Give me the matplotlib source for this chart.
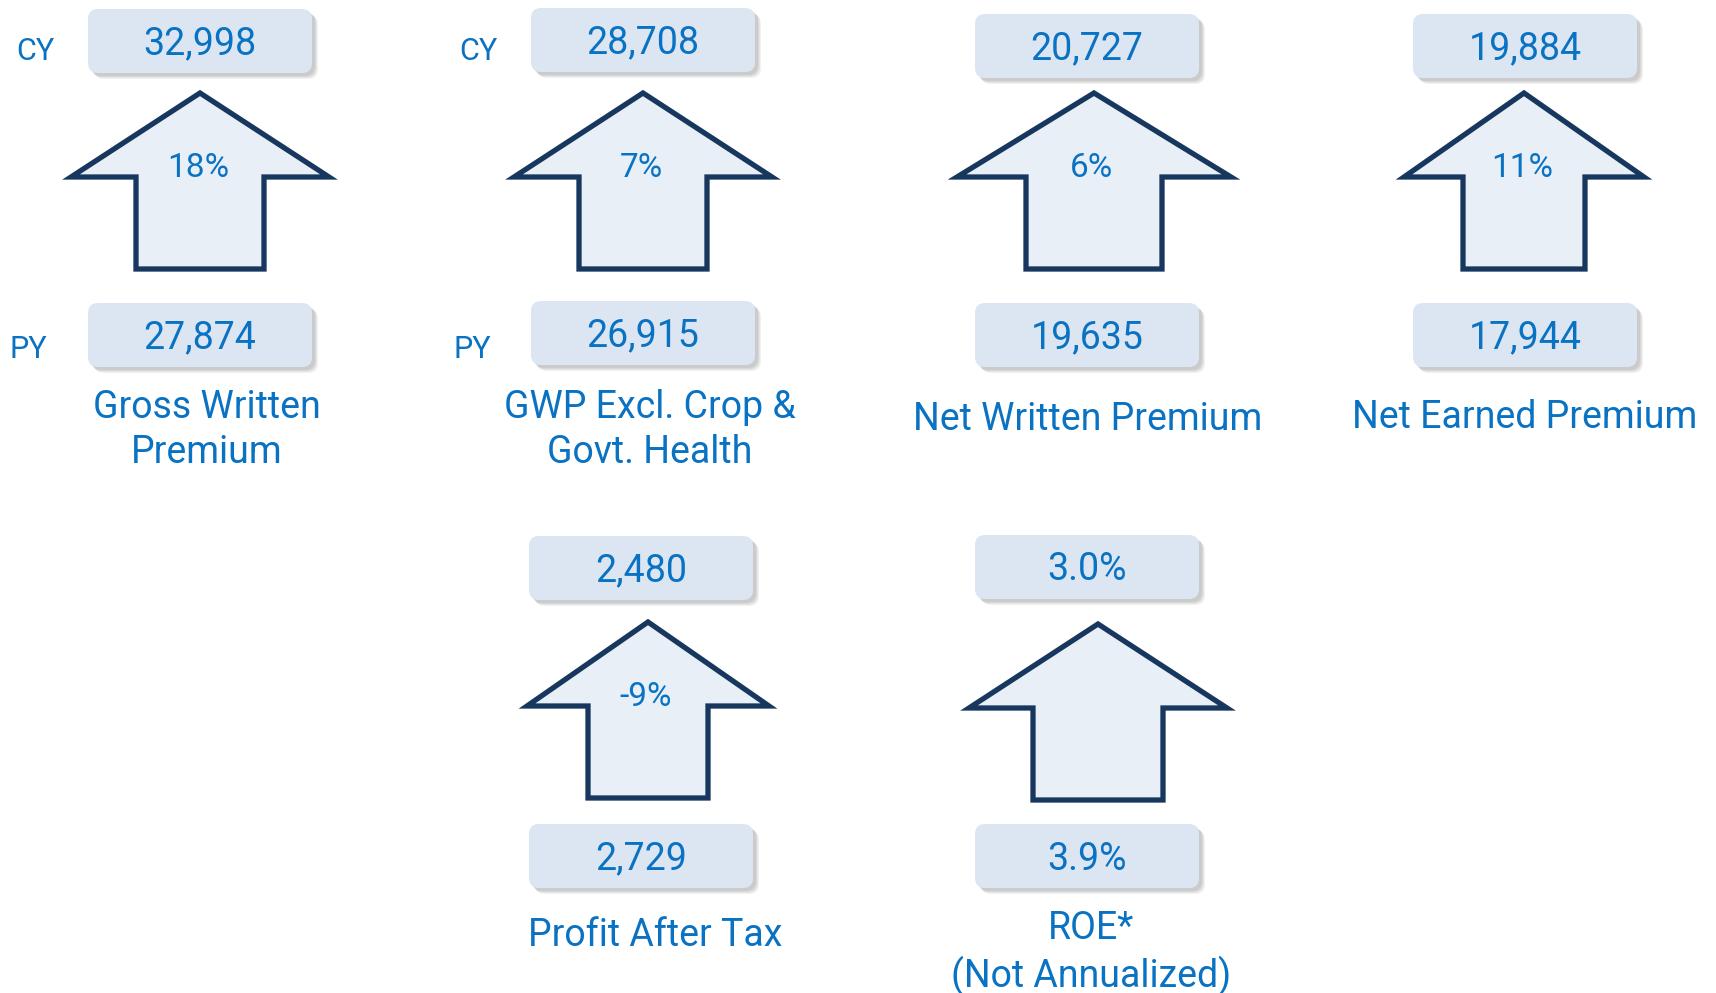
import matplotlib
matplotlib.use("Agg")
import matplotlib.pyplot as plt
from matplotlib.patches import FancyBboxPatch, Polygon

# ---- data ----
metric_labels = ["Gross Written\nPremium", "GWP Excl. Crop &\nGovt. Health", "Net Written Premium",
                 "Net Earned Premium", "Profit After Tax", "ROE*\n(Not Annualized)"]
cy_values = ["32,998", "28,708", "20,727", "19,884", "2,480", "3.0%"]
py_values = ["27,874", "26,915", "19,635", "17,944", "2,729", "3.9%"]
pct_change = ["18%", "7%", "6%", "11%", "-9%", ""]
row_labels = ["CY", "PY"]

# ---- layout (pixel space) ----
W, H = 1716, 993
tile_cx = [200, 643, 1087, 1525, 641, 1087]          # box centre x
box_cy_top = [9, 8, 14, 14, 536, 535]               # top of CY box
box_py_top = [303, 301, 303, 303, 824, 824]         # top of PY box
arrow_tip = [(200, 93), (643, 93), (1094, 93), (1524, 93), (648, 622), (1098, 624)]
head_half = [129, 129, 137, 120, 121, 129]
shaft_half = [64, 64, 68, 61, 60, 65]
label_pos = [(207, 430), (650, 430), (1088, 419), (1525, 418), (655, 935), (1091, 953)]
row_label_tiles = [0, 1]
row_label_x = [(35, 28), (478, 472)]
row_label_y = (51, 349)
BOX_W, BOX_H = 224, 64

TEXT = "#0A72C2"
BOX_FILL = "#DCE6F2"
ARROW_FILL = "#E9EFF7"
ARROW_EDGE = "#17375E"
FONT = ["Roboto", "DejaVu Sans"]
WEIGHT = "normal"

fig = plt.figure(figsize=(W / 100, H / 100), dpi=100)
ax = fig.add_axes([0, 0, 1, 1])
ax.set_xlim(0, W)
ax.set_ylim(H, 0)
ax.axis("off")


def value_box(cx, top, text):
    x0 = cx - BOX_W / 2
    # soft shadow
    for i, a in enumerate([0.10, 0.10, 0.12, 0.14]):
        off = 6 - i
        sh = FancyBboxPatch((x0 + off, top + off), BOX_W, BOX_H,
                            boxstyle="round,pad=0,rounding_size=10",
                            fc="#7f7f7f", ec="none", alpha=a, zorder=1)
        ax.add_patch(sh)
    b = FancyBboxPatch((x0, top), BOX_W, BOX_H,
                       boxstyle="round,pad=0,rounding_size=10",
                       fc=BOX_FILL, ec="none", zorder=2)
    ax.add_patch(b)
    ax.text(cx, top + BOX_H / 2 + 3, text, ha="center", va="center",
            fontsize=27, color=TEXT, family=FONT, weight=WEIGHT, zorder=3)


for i in range(len(cy_values)):
    cx = tile_cx[i]
    value_box(cx, box_cy_top[i], cy_values[i])
    value_box(cx, box_py_top[i], py_values[i])

    tx, ty = arrow_tip[i]
    hb = ty + 84
    bot = ty + 176
    hh, sh = head_half[i], shaft_half[i]
    pts = [(tx, ty), (tx + hh, hb), (tx + sh, hb), (tx + sh, bot),
           (tx - sh, bot), (tx - sh, hb), (tx - hh, hb)]
    ax.add_patch(Polygon(pts, closed=True, fc=ARROW_FILL, ec=ARROW_EDGE,
                         lw=3.8, joinstyle="miter", zorder=2))
    if pct_change[i]:
        ax.text(tx - 2, ty + 75, pct_change[i], ha="center", va="center",
                fontsize=24, color=TEXT, family=FONT, weight=WEIGHT, zorder=3)

    lx, ly = label_pos[i]
    ax.text(lx, ly, metric_labels[i], ha="center", va="center", fontsize=27,
            color=TEXT, family=FONT, weight=WEIGHT, linespacing=1.3, zorder=3)

for k, t in enumerate(row_label_tiles):
    for j, lab in enumerate(row_labels):
        ax.text(row_label_x[k][j], row_label_y[j], lab, ha="center", va="center",
                fontsize=22, color=TEXT, family=FONT, weight=WEIGHT)

fig.savefig("out.png", dpi=100)
